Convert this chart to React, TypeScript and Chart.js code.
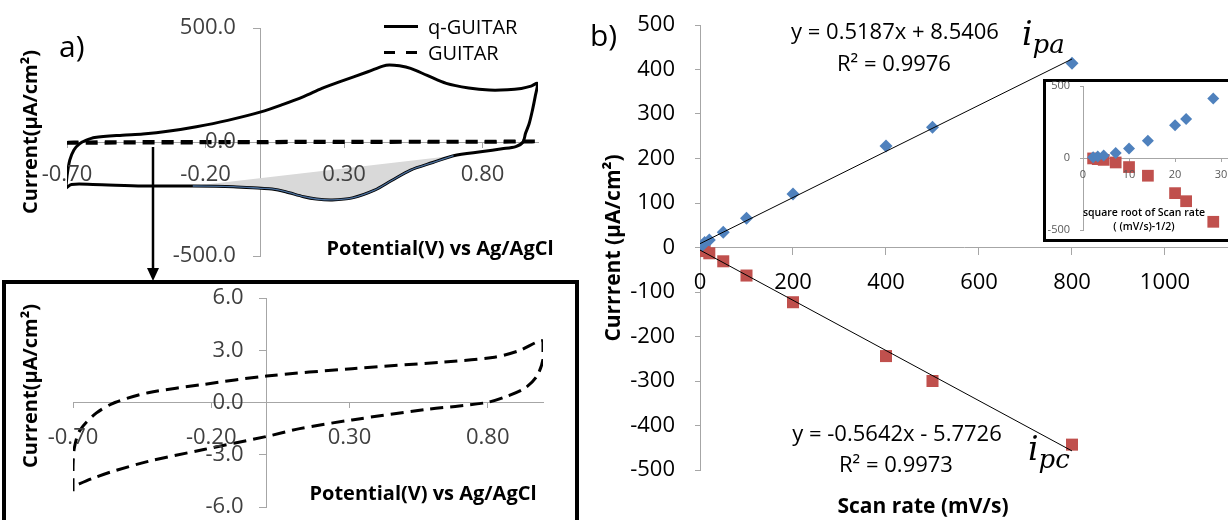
import React, { useEffect, useRef } from "react";
import { Chart, registerables } from "chart.js";

Chart.register(...registerables);

// ---------- Panel a: cyclic voltammograms ----------
// q-GUITAR loop (potential V vs Ag/AgCl, current µA/cm²)
const qPotential = [-0.704, -0.7, -0.69, -0.675, -0.655, -0.63, -0.6, -0.5, -0.426, -0.33, -0.233, -0.12, 0.0, 0.08, 0.154, 0.22, 0.283, 0.386, 0.44, 0.463, 0.5, 0.54, 0.6, 0.669, 0.75, 0.824, 0.89, 0.94, 0.975, 0.998, 0.99, 0.98, 0.968, 0.955, 0.946, 0.92, 0.87, 0.8, 0.695, 0.62, 0.54, 0.47, 0.41, 0.33, 0.257, 0.2, 0.154, 0.089, 0.04, 0.0, -0.1, -0.246, -0.426, -0.607, -0.684, -0.704];
const qCurrent = [-203, -150, -80, -35, -8, 8, 20, 30, 35, 48, 67, 95, 132, 165, 199, 235, 264, 308, 333, 338, 334, 323, 292, 257, 237, 228, 229, 235, 245, 257, 200, 140, 80, 38, 0, -20, -30, -42, -60, -90, -123, -170, -211, -245, -254, -250, -240, -218, -206, -203, -196, -193, -193, -186, -186, -203];

// cathodic peak region (shaded against its baseline)
const peakPotential = [-0.246, -0.1, 0.0, 0.04, 0.089, 0.154, 0.2, 0.257, 0.33, 0.41, 0.47, 0.54, 0.62, 0.695];
const peakCurrent = [-193, -196, -203, -206, -218, -240, -250, -254, -245, -211, -170, -123, -90, -60];
const baselinePotential = [-0.246, 0.695];
const baselineCurrent = [-193, -60];

// GUITAR loop
const guitarPotential = [-0.7, -0.7, -0.695, -0.675, -0.615, -0.548, -0.428, -0.227, 0.0, 0.309, 0.643, 0.817, 0.911, 1.0, 1.0, 0.978, 0.937, 0.871, 0.79, 0.576, 0.309, 0.12, 0.0, -0.227, -0.428, -0.565, -0.628, -0.7];
const guitarCurrent = [-5.1, -3.7, -2.6, -1.6, -0.6, 0.0, 0.56, 1.04, 1.52, 1.94, 2.33, 2.58, 2.96, 3.54, 2.48, 1.52, 0.85, 0.37, -0.02, -0.4, -1.0, -1.5, -1.95, -2.7, -3.38, -4.0, -4.35, -4.83];

const cvTicksX = [-0.7, -0.2, 0.3, 0.8];
const cvTicksYMain = [-500, 0, 500];
const cvTicksYZoom = [-6, -3, 0, 3, 6];
const arrowPotential = -0.39;

// ---------- Panel b: peak current vs scan rate ----------
const scanRate = [5, 10, 20, 50, 100, 200, 400, 500, 800];
const sqrtScanRate = [2.2, 3.2, 4.5, 7.1, 10, 14.1, 20, 22.4, 28.3];
const anodicPeak = [5, 11, 17, 34, 66, 120, 228, 270, 414];
const cathodicPeak = [-3, -8, -13, -31, -63, -123, -244, -300, -443];
const anodicFit = { slope: 0.5187, intercept: 8.5406 };
const cathodicFit = { slope: -0.5642, intercept: -5.7726 };
const fitRange = [0, 800];
const scanTicksX = [0, 200, 400, 600, 800, 1000];
const scanTicksY = [-500, -400, -300, -200, -100, 0, 100, 200, 300, 400, 500];
const insetTicksX = [0, 10, 20, 30];
const insetTicksY = [-500, 0, 500];

const FONT = "'Open Sans', 'DejaVu Sans', sans-serif";
const AXIS = "#a6a6a6";
const BLUE = "#4F81BD";
const RED = "#C0504D";

type Pt = { x: number; y: number };
const zip = (xs: number[], ys: number[]): Pt[] => xs.map((x, i) => ({ x, y: ys[i] }));
const fitLine = (f: { slope: number; intercept: number }): Pt[] =>
  fitRange.map((x) => ({ x, y: f.slope * x + f.intercept }));

function axis(o: { min: number; max: number; ticks: number[]; at: Record<string, number>; tickLen: number }) {
  return {
    type: "linear",
    min: o.min,
    max: o.max,
    position: o.at,
    afterBuildTicks: (s: any) => {
      s.ticks = o.ticks.map((v) => ({ value: v }));
    },
    grid: { drawOnChartArea: false, drawTicks: true, tickLength: o.tickLen, color: AXIS, lineWidth: 1 },
    border: { display: true, color: AXIS, width: 1 },
    ticks: { display: false, autoSkip: false, maxRotation: 0, minRotation: 0 },
  };
}

// Axis tick labels drawn at fixed offsets from axes that cross at zero (Excel style)
function tickLabels(cfg: {
  xValues: number[]; yValues: number[]; xDec: number; yDec: number;
  xOffset: number; yOffset: number; size: number; color: string;
}) {
  return {
    id: "tickLabels",
    afterDraw(chart: any) {
      const { ctx, scales } = chart;
      const xs = scales.x;
      const ys = scales.y;
      const axisY = ys.getPixelForValue(0);
      const axisX = xs.getPixelForValue(0);
      ctx.save();
      ctx.fillStyle = cfg.color;
      ctx.font = `${cfg.size}px ${FONT}`;
      ctx.textBaseline = "middle";
      ctx.textAlign = "center";
      cfg.xValues.forEach((v) => ctx.fillText(v.toFixed(cfg.xDec), xs.getPixelForValue(v), axisY + cfg.xOffset));
      ctx.textAlign = "right";
      cfg.yValues.forEach((v) => ctx.fillText(v.toFixed(cfg.yDec), axisX - cfg.yOffset, ys.getPixelForValue(v)));
      ctx.restore();
    },
  };
}

const baseOptions = (padding: any, scales: any) => ({
  responsive: false,
  animation: false,
  events: [],
  layout: { padding, autoPadding: false },
  plugins: { legend: { display: false }, tooltip: { enabled: false } },
  scales,
});

const arrowPlugin = {
  id: "zoomArrow",
  afterDraw(chart: any) {
    const { ctx, scales } = chart;
    const x = Math.round(scales.x.getPixelForValue(arrowPotential));
    const y0 = scales.y.getPixelForValue(-22);
    const tip = chart.height - 1;
    ctx.save();
    ctx.strokeStyle = "#000";
    ctx.fillStyle = "#000";
    ctx.lineWidth = 2.5;
    ctx.beginPath();
    ctx.moveTo(x, y0);
    ctx.lineTo(x, tip - 10);
    ctx.stroke();
    ctx.beginPath();
    ctx.moveTo(x - 6, tip - 13);
    ctx.lineTo(x + 6, tip - 13);
    ctx.lineTo(x, tip);
    ctx.closePath();
    ctx.fill();
    ctx.restore();
  },
};

function ChartCanvas({ left, top, width, height, config }: any) {
  const ref = useRef<HTMLCanvasElement>(null);
  useEffect(() => {
    const chart = new Chart(ref.current as HTMLCanvasElement, config);
    return () => chart.destroy();
  }, []);
  return (
    <canvas
      ref={ref}
      width={width}
      height={height}
      style={{ position: "absolute", left, top, width, height }}
    />
  );
}

function Text({ x, y, children, size = 18, weight = 400, anchor = "center", rotate = false, color = "#000" }: any) {
  const tx = anchor === "left" ? "0" : "-50%";
  return (
    <div
      style={{
        position: "absolute", left: x, top: y, whiteSpace: "nowrap", fontFamily: FONT,
        fontSize: size, fontWeight: weight, lineHeight: 1, color,
        transform: rotate ? "translate(-50%, -50%) rotate(-90deg)" : `translate(${tx}, -50%)`,
      }}
    >
      {children}
    </div>
  );
}

function MathLabel({ x, baseline, sub }: any) {
  return (
    <div style={{ position: "absolute", left: x, top: baseline - 28, fontFamily: "'DejaVu Serif', serif", fontStyle: "italic", fontSize: 33, lineHeight: "33px", color: "#000", whiteSpace: "nowrap" }}>
      i<span style={{ fontSize: 26, position: "relative", top: 8 }}>{sub}</span>
    </div>
  );
}

const cvTopConfig = {
  type: "line",
  data: {
    datasets: [
      { data: zip(guitarPotential, guitarCurrent), borderColor: "#000", borderWidth: 3.5, borderDash: [12, 7], pointRadius: 0, tension: 0.3, fill: false, order: 0 },
      { data: zip(peakPotential, peakCurrent), borderColor: "#4a6f9c", borderWidth: 1.3, pointRadius: 0, tension: 0.3, fill: false, order: 1 },
      { data: zip(qPotential, qCurrent), borderColor: "#000", borderWidth: 3, pointRadius: 0, tension: 0.3, fill: false, order: 2 },
      { data: zip(peakPotential, peakCurrent), borderColor: "rgba(0,0,0,0)", borderWidth: 0, backgroundColor: "#d9d9d9", pointRadius: 0, tension: 0.3, fill: "+1", order: 3 },
      { data: zip(baselinePotential, baselineCurrent), borderColor: "rgba(0,0,0,0)", borderWidth: 0, pointRadius: 0, fill: false, order: 4 },
    ],
  },
  options: baseOptions({ left: 67, right: 22, top: 28, bottom: 26 }, {
    x: axis({ min: -0.7, max: 1.0, ticks: cvTicksX, at: { y: 0 }, tickLen: 5 }),
    y: axis({ min: -500, max: 500, ticks: cvTicksYMain, at: { x: 0 }, tickLen: 7 }),
  }),
  plugins: [
    tickLabels({ xValues: cvTicksX, yValues: cvTicksYMain, xDec: 2, yDec: 1, xOffset: 33, yOffset: 25, size: 22, color: "#404040" }),
    arrowPlugin,
  ],
};

const cvZoomConfig = {
  type: "line",
  data: {
    datasets: [
      { data: zip(guitarPotential, guitarCurrent), borderColor: "#000", borderWidth: 3, borderDash: [13, 7], pointRadius: 0, tension: 0.3, fill: false },
    ],
  },
  options: baseOptions({ left: 67, right: 31, top: 14, bottom: 13 }, {
    x: axis({ min: -0.7, max: 1.0, ticks: cvTicksX, at: { y: 0 }, tickLen: 5 }),
    y: axis({ min: -6, max: 6, ticks: cvTicksYZoom, at: { x: 0 }, tickLen: 7 }),
  }),
  plugins: [
    tickLabels({ xValues: cvTicksX, yValues: cvTicksYZoom, xDec: 2, yDec: 1, xOffset: 35, yOffset: 23, size: 22, color: "#404040" }),
  ],
};

const scanConfig = {
  type: "scatter",
  data: {
    datasets: [
      { data: fitLine(anodicFit), showLine: true, borderColor: "#000", borderWidth: 1, pointRadius: 0, order: 0 },
      { data: fitLine(cathodicFit), showLine: true, borderColor: "#000", borderWidth: 1, pointRadius: 0, order: 1 },
      { data: zip(scanRate, anodicPeak), pointStyle: "rectRot", pointRadius: 6.5, backgroundColor: BLUE, borderWidth: 0, order: 2 },
      { data: zip(scanRate, cathodicPeak), pointStyle: "rect", pointRadius: 8.5, backgroundColor: RED, borderWidth: 0, order: 3 },
    ],
  },
  options: baseOptions({ left: 110, right: 0, top: 25, bottom: 50 }, {
    x: axis({ min: 0, max: 1135.5, ticks: scanTicksX, at: { y: 0 }, tickLen: 7 }),
    y: axis({ min: -500, max: 500, ticks: scanTicksY, at: { x: 0 }, tickLen: 5 }),
  }),
  plugins: [
    tickLabels({ xValues: scanTicksX, yValues: scanTicksY, xDec: 0, yDec: 0, xOffset: 35, yOffset: 25, size: 22, color: "#000" }),
  ],
};

const insetConfig = {
  type: "scatter",
  data: {
    datasets: [
      { data: zip(sqrtScanRate, anodicPeak), pointStyle: "rectRot", pointRadius: 6, backgroundColor: BLUE, borderWidth: 0, order: 0 },
      { data: zip(sqrtScanRate, cathodicPeak), pointStyle: "rect", pointRadius: 8.3, backgroundColor: RED, borderWidth: 0, order: 1 },
    ],
  },
  options: baseOptions({ left: 43, right: 0, top: 16, bottom: 15 }, {
    x: axis({ min: 0, max: 31.5, ticks: insetTicksX, at: { y: 0 }, tickLen: 3 }),
    y: axis({ min: -500, max: 500, ticks: insetTicksY, at: { x: 0 }, tickLen: 3 }),
  }),
  plugins: [
    tickLabels({ xValues: insetTicksX, yValues: insetTicksY, xDec: 0, yDec: 0, xOffset: 17, yOffset: 13, size: 11, color: "#595959" }),
  ],
};

export default function App() {
  return (
    <div style={{ position: "absolute", left: 0, top: 0, width: 1228, height: 520, overflow: "hidden", background: "#fff" }}>
      {/* Panel b */}
      <ChartCanvas left={590} top={0} width={638} height={520} config={scanConfig} />
      <Text x={590} y={35} size={30} anchor="left">b)</Text>
      <Text x={612} y={248} size={21} weight={700} rotate>Currrent (µA/cm²)</Text>
      <Text x={923} y={505} size={21} weight={700}>Scan rate (mV/s)</Text>
      <Text x={895} y={30} size={22}>y = 0.5187x + 8.5406</Text>
      <Text x={894} y={62} size={22}>R² = 0.9976</Text>
      <Text x={897} y={432} size={22}>y = -0.5642x - 5.7726</Text>
      <Text x={896} y={463} size={22}>R² = 0.9973</Text>
      <MathLabel x={1022} baseline={45} sub="pa" />
      <MathLabel x={1028} baseline={460} sub="pc" />

      {/* Inset */}
      <div style={{ position: "absolute", left: 1043, top: 79, width: 200, height: 163, boxSizing: "border-box", border: "3px solid #000", background: "#fff" }} />
      <ChartCanvas left={1040} top={70} width={188} height={175} config={insetConfig} />
      <Text x={1144} y={212} size={10.5} weight={600}>square root of Scan rate</Text>
      <Text x={1144} y={226} size={10.5} weight={600}>( (mV/s)-1/2)</Text>

      {/* Panel a zoom box */}
      <div style={{ position: "absolute", left: 2, top: 280, width: 577, height: 260, boxSizing: "border-box", border: "4px solid #000", background: "#fff" }} />
      <ChartCanvas left={6} top={284} width={568} height={236} config={cvZoomConfig} />
      <Text x={30} y={386} size={20} weight={700} rotate>Current(µA/cm²)</Text>
      <Text x={423} y={493} size={20} weight={700}>Potential(V) vs Ag/AgCl</Text>

      {/* Panel a main */}
      <ChartCanvas left={0} top={0} width={560} height={282} config={cvTopConfig} />
      <Text x={59} y={46} size={30} anchor="left">a)</Text>
      <Text x={30} y={132} size={20} weight={700} rotate>Current(µA/cm²)</Text>
      <Text x={440} y={248} size={20} weight={700}>Potential(V) vs Ag/AgCl</Text>
      <div style={{ position: "absolute", left: 384, top: 25, width: 34, height: 3, background: "#000" }} />
      <Text x={428} y={27} size={20} anchor="left">q-GUITAR</Text>
      <div style={{ position: "absolute", left: 384, top: 51, width: 34, height: 3, background: "repeating-linear-gradient(to right, #000 0 11px, transparent 11px 22px)" }} />
      <Text x={428} y={53} size={20} anchor="left">GUITAR</Text>
    </div>
  );
}
